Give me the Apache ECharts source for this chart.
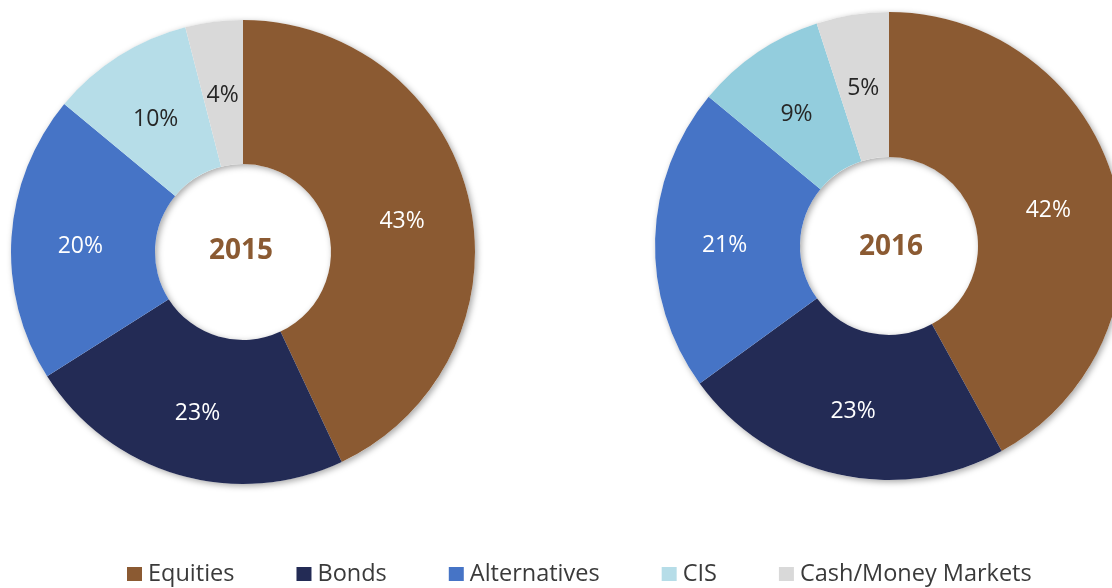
<!DOCTYPE html>
<html>
<head>
<meta charset="utf-8">
<title>Asset Allocation 2015 vs 2016</title>
<script src="https://cdn.jsdelivr.net/npm/echarts@6/dist/echarts.min.js"></script>
<style>
  html, body { margin: 0; padding: 0; background: #ffffff; }
  #chart { width: 1112px; height: 588px; }
</style>
</head>
<body>
<div id="chart"></div>
<script>
// Asset classes shown in both rings
const categories = ['Equities', 'Bonds', 'Alternatives', 'CIS', 'Cash/Money Markets'];

// Allocation shares in percent
const values2015 = [43, 23, 20, 10, 4];
const values2016 = [42, 23, 21, 9, 5];

const years = ['2015', '2016'];

// Slice colours per year (CIS is a shade lighter in 2015)
const colors2015 = ['#8B5A32', '#232B55', '#4674C6', '#B6DDE8', '#D9D9D9'];
const colors2016 = ['#8B5A32', '#232B55', '#4674C6', '#93CDDD', '#D9D9D9'];

// Dark labels on the pale slices, white on the rest
const labelColors = ['#ffffff', '#ffffff', '#ffffff', '#262626', '#262626'];

const FONT = '"Open Sans", "Noto Sans", sans-serif';

function buildData(values, colors) {
  return categories.map((name, i) => ({
    name: name,
    value: values[i],
    itemStyle: { color: colors[i] },
    label: { color: labelColors[i] }
  }));
}

// Soft drop shadow under the whole ring, drawn beneath the slices
function shadowRing(center, outer, inner) {
  return {
    type: 'pie',
    center: center,
    radius: [inner, outer],
    silent: true,
    z: 1,
    label: { show: false },
    labelLine: { show: false },
    emphasis: { disabled: true },
    itemStyle: {
      color: '#ffffff',
      shadowColor: 'rgba(0,0,0,0.35)',
      shadowBlur: 6,
      shadowOffsetX: 2,
      shadowOffsetY: 2
    },
    data: [{ name: 'ring', value: 1 }]
  };
}

function ring(values, colors, center, outer, inner) {
  return {
    type: 'pie',
    center: center,
    radius: [inner, outer],
    startAngle: 90,
    clockwise: true,
    avoidLabelOverlap: false,
    silent: true,
    z: 2,
    label: {
      show: true,
      position: 'inside',
      formatter: '{c}%',
      fontFamily: FONT,
      fontSize: 23,
      offset: [0, 5],
      textBorderWidth: 0
    },
    labelLine: { show: false },
    itemStyle: { borderWidth: 0 },
    emphasis: { disabled: true },
    data: buildData(values, colors)
  };
}

const chart = echarts.init(document.getElementById('chart'), null, { renderer: 'canvas' });

chart.setOption({
  animation: false,
  backgroundColor: '#ffffff',
  legend: {
    data: categories,
    top: 557,
    left: 122,
    icon: 'rect',
    itemWidth: 15,
    itemHeight: 14,
    itemGap: 62,
    selectedMode: false,
    textStyle: {
      fontFamily: FONT,
      fontSize: 23.5,
      color: '#3a3a3a',
      padding: [0, 0, 0, 1]
    }
  },
  graphic: [
    {
      type: 'text',
      x: 241,
      y: 251,
      z: 10,
      style: {
        text: years[0],
        textAlign: 'center',
        textVerticalAlign: 'middle',
        fill: '#8B5A32',
        font: 'bold 28px ' + FONT
      }
    },
    {
      type: 'text',
      x: 891,
      y: 247,
      z: 10,
      style: {
        text: years[1],
        textAlign: 'center',
        textVerticalAlign: 'middle',
        fill: '#8B5A32',
        font: 'bold 28px ' + FONT
      }
    }
  ],
  series: [
    shadowRing([243, 252], 232, 88),
    shadowRing([889, 246], 234, 89),
    ring(values2015, colors2015, [243, 252], 232, 88),
    ring(values2016, colors2016, [889, 246], 234, 89)
  ]
});
</script>
</body>
</html>
